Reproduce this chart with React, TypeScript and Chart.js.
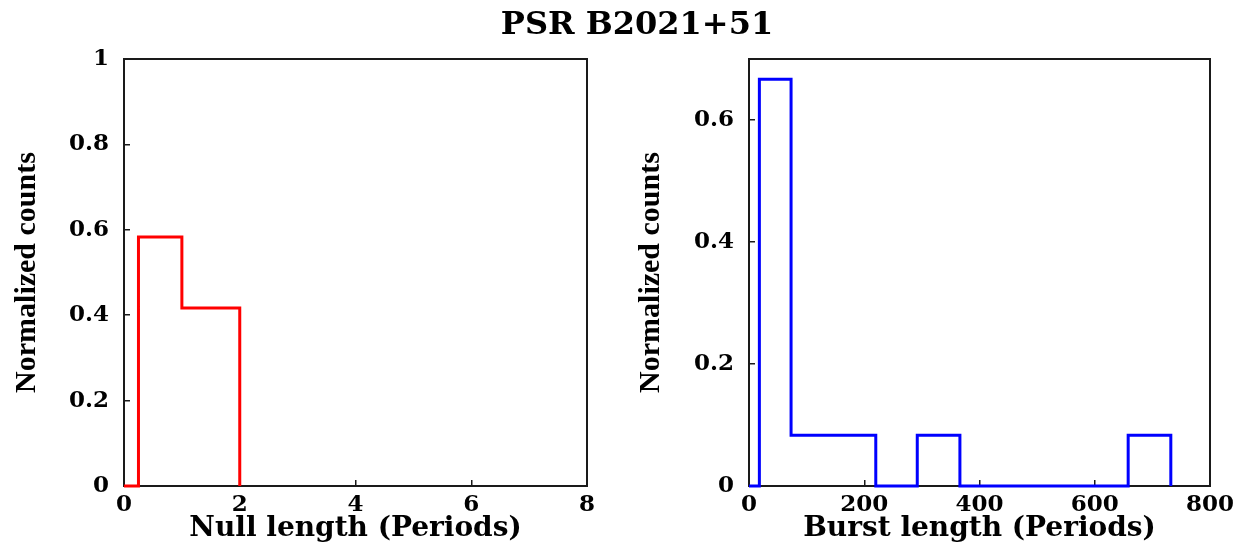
import React, { useEffect, useRef } from "react";
import { Chart, registerables } from "chart.js";

Chart.register(...registerables);

// ---- data ----
const TITLE = "PSR B2021+51";

const nullBinEdges = [0, 0.25, 1, 2];
const nullCounts = [0, 0.5833, 0.4167];
const nullXTicks = [0, 2, 4, 6, 8];
const nullYTicks = [0, 0.2, 0.4, 0.6, 0.8, 1];

const burstBinEdges = [0, 18, 73, 146, 220, 292, 366, 439, 512, 585, 658, 732];
const burstCounts = [0, 0.6667, 0.0833, 0.0833, 0, 0.0833, 0, 0, 0, 0, 0.0833];
const burstXTicks = [0, 200, 400, 600, 800];
const burstYTicks = [0, 0.2, 0.4, 0.6];
const burstYMax = 0.7;

const Y_LABEL = "Normalized counts";
const NULL_X_LABEL = "Null length (Periods)";
const BURST_X_LABEL = "Burst length (Periods)";

// ---- helpers ----
function toSteps(edges: number[], counts: number[]) {
  const pts = counts.map((c, i) => ({ x: edges[i], y: c }));
  pts.push({ x: edges[edges.length - 1], y: 0 });
  return pts;
}

const fmt = (v: number) => String(Number(Number(v).toFixed(2)));

const framePlugin = {
  id: "frame",
  beforeDatasetsDraw(chart: any) {
    const { ctx, chartArea } = chart;
    const { left, top, right, bottom } = chartArea;
    ctx.save();
    ctx.strokeStyle = "#1a1a1a";
    ctx.lineWidth = 2;
    ctx.strokeRect(left, top, right - left, bottom - top);
    ctx.restore();
  },
};

const AXIS_COLOR = "#1a1a1a";
const tickFont = { family: "'DejaVu Serif', serif", size: 23, weight: "bold" as const };
const xTitleFont = { family: "'DejaVu Serif', serif", size: 28, weight: "bold" as const };
const yTitleFont = { family: "'Liberation Serif', serif", size: 30, weight: "bold" as const };

interface PanelCfg {
  edges: number[];
  counts: number[];
  color: string;
  xTicks: number[];
  yTicks: number[];
  yMax: number;
  xLabel: string;
  yAxisWidth: number;
  padRight: number;
  yTitlePad: number;
}

function makeConfig(p: PanelCfg): any {
  return {
    type: "line",
    data: {
      datasets: [
        {
          data: toSteps(p.edges, p.counts),
          borderColor: p.color,
          borderWidth: 3,
          stepped: "before",
          pointRadius: 0,
          fill: false,
          clip: false,
        },
      ],
    },
    options: {
      animation: false,
      responsive: false,
      events: [],
      layout: { padding: { left: 0, right: p.padRight, top: 59, bottom: 0 } },
      plugins: {
        legend: { display: false },
        tooltip: { enabled: false },
        title: { display: false },
      },
      scales: {
        x: {
          type: "linear",
          min: p.xTicks[0],
          max: p.xTicks[p.xTicks.length - 1],
          afterBuildTicks: (s: any) => {
            s.ticks = p.xTicks.map((v) => ({ value: v }));
          },
          afterFit: (s: any) => {
            s.height = 64;
          },
          grid: {
            drawOnChartArea: false,
            drawTicks: true,
            tickLength: -6,
            color: AXIS_COLOR,
            lineWidth: 1.5,
          },
          border: { display: true, color: AXIS_COLOR, width: 2 },
          ticks: {
            font: tickFont,
            color: "#000",
            padding: 11,
            maxRotation: 0,
            autoSkip: false,
            callback: (v: number) => fmt(v),
          },
          title: {
            display: true,
            text: p.xLabel,
            font: xTitleFont,
            color: "#000",
            padding: { top: 0, bottom: 4 },
          },
        },
        y: {
          type: "linear",
          min: 0,
          max: p.yMax,
          afterBuildTicks: (s: any) => {
            s.ticks = p.yTicks.map((v) => ({ value: v }));
          },
          afterFit: (s: any) => {
            s.width = p.yAxisWidth;
          },
          grid: {
            drawOnChartArea: false,
            drawTicks: true,
            tickLength: -6,
            color: AXIS_COLOR,
            lineWidth: 1.5,
          },
          border: { display: true, color: AXIS_COLOR, width: 2 },
          ticks: {
            font: tickFont,
            color: "#000",
            padding: 21,
            autoSkip: false,
            callback: (v: number) => fmt(v),
          },
          title: {
            display: true,
            text: Y_LABEL,
            font: yTitleFont,
            color: "#000",
            padding: { top: p.yTitlePad, bottom: 0 },
          },
        },
      },
    },
    plugins: [framePlugin],
  };
}

const nullPanel: PanelCfg = {
  edges: nullBinEdges,
  counts: nullCounts,
  color: "#ff0000",
  xTicks: nullXTicks,
  yTicks: nullYTicks,
  yMax: 1,
  xLabel: NULL_X_LABEL,
  yAxisWidth: 124,
  padRight: 40,
  yTitlePad: 9,
};

const burstPanel: PanelCfg = {
  edges: burstBinEdges,
  counts: burstCounts,
  color: "#0000ff",
  xTicks: burstXTicks,
  yTicks: burstYTicks,
  yMax: burstYMax,
  xLabel: BURST_X_LABEL,
  yAxisWidth: 122,
  padRight: 44,
  yTitlePad: 6,
};

function Panel({ cfg, left }: { cfg: PanelCfg; left: number }) {
  const ref = useRef<HTMLCanvasElement | null>(null);
  useEffect(() => {
    if (!ref.current) return;
    const chart = new Chart(ref.current, makeConfig(cfg));
    return () => chart.destroy();
  }, [cfg]);
  return (
    <canvas
      ref={ref}
      width={627}
      height={550}
      style={{ position: "absolute", left, top: 0, width: 627, height: 550 }}
    />
  );
}

export default function App() {
  return (
    <div
      style={{
        position: "absolute",
        left: 0,
        top: 0,
        width: 1254,
        height: 550,
        background: "#fff",
        overflow: "hidden",
      }}
    >
      <Panel cfg={nullPanel} left={0} />
      <Panel cfg={burstPanel} left={627} />
      <div
        style={{
          position: "absolute",
          left: 10,
          top: 7,
          width: 1254,
          textAlign: "center",
          fontFamily: "'DejaVu Serif', serif",
          fontWeight: "bold",
          fontSize: 32,
          lineHeight: "32px",
          color: "#000",
          whiteSpace: "nowrap",
        }}
      >
        {TITLE}
      </div>
    </div>
  );
}
